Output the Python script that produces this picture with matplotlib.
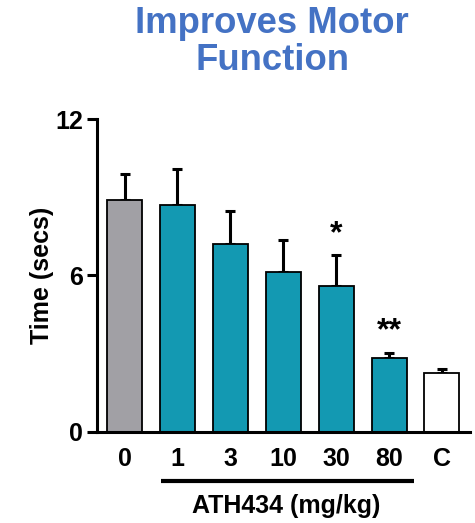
import matplotlib
matplotlib.use("Agg")
import matplotlib.pyplot as plt

categories = ["0", "1", "3", "10", "30", "80", "C"]
means = [8.89, 8.71, 7.20, 6.14, 5.60, 2.82, 2.27]
errors = [0.99, 1.37, 1.27, 1.22, 1.17, 0.19, 0.12]
colors = ["#A1A0A5", "#1399B2", "#1399B2", "#1399B2", "#1399B2", "#1399B2", "#FFFFFF"]
signif = ["", "", "", "", "*", "**", ""]
yticks = [0, 6, 12]

plt.rcParams['font.family'] = ['Liberation Sans', 'DejaVu Sans']
plt.rcParams['font.weight'] = 'bold'

fig = plt.figure(figsize=(4.75, 5.23), dpi=100)
ax = fig.add_axes([97/475, 1-431.7/523, (470-97)/475, (431.7-119)/523])

x = list(range(len(categories)))
ax.bar(x, means, width=0.66, color=colors, edgecolor="black", linewidth=1.3, zorder=2)
ax.errorbar(x, means, yerr=[[0]*len(means), errors], fmt="none", ecolor="black",
            elinewidth=2.2, capsize=3.5, capthick=2.2, zorder=1)

for xi, m, e, s in zip(x, means, errors, signif):
    if s:
        ax.text(xi, m + e + 0.25, s, ha="center", va="bottom", fontsize=23, fontweight="bold")

ax.set_xlim(-0.52, 6.53)
ax.set_ylim(0, 12)
ax.set_yticks(yticks)
ax.set_yticklabels([str(t) for t in yticks], fontsize=18, fontweight="bold")
ax.set_xticks(x)
ax.set_xticklabels(categories, fontsize=18, fontweight="bold")
ax.tick_params(axis="x", length=0, pad=11)
ax.tick_params(axis="y", length=7, width=2.2, pad=3)
for side in ["top", "right"]:
    ax.spines[side].set_visible(False)
for side in ["left", "bottom"]:
    ax.spines[side].set_linewidth(2.2)

ax.set_ylabel("Time (secs)", fontsize=18, fontweight="bold", labelpad=1)

# bracket under the ATH434 doses
ax.plot([0.69, 5.47], [-1.88, -1.88], color="black", linewidth=3, clip_on=False,
        solid_capstyle="butt")
ax.text(3.06, -2.85, "ATH434 (mg/kg)", ha="center", va="center", fontsize=18,
        fontweight="bold")

fig.text(272/475, 1-42/523, "Improves Motor\nFunction", ha="center", va="center",
         fontsize=26.3, fontweight="bold", color="#4472C4", linespacing=1.05)

fig.savefig("out.png", dpi=100)
